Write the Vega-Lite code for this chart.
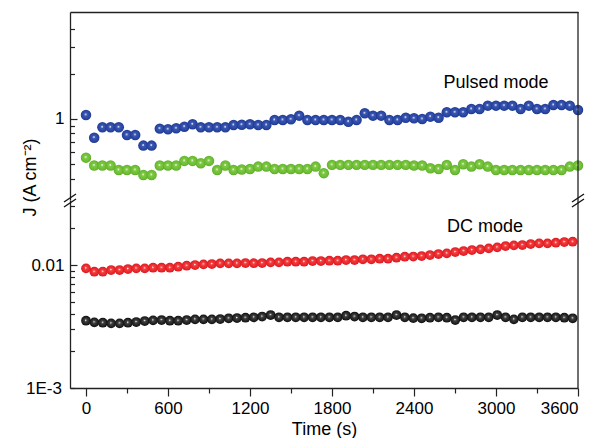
{
  "$schema": "https://vega.github.io/schema/vega-lite/v6.json",
  "background": "white",
  "padding": {"left": 21, "top": 11, "right": 3, "bottom": 0},
  "config": {"font": "Liberation Sans", "view": {"stroke": null}, "text": {"font": "Liberation Sans"}},
  "spacing": 0,
  "bounds": "flush",
  "datasets": {
    "blue": [{"t":0,"j":1.063},{"t":60,"j":0.75},{"t":120,"j":0.88},{"t":180,"j":0.88},{"t":240,"j":0.88},{"t":300,"j":0.782},{"t":360,"j":0.782},{"t":420,"j":0.664},{"t":480,"j":0.664},{"t":540,"j":0.862},{"t":600,"j":0.854},{"t":660,"j":0.867},{"t":720,"j":0.888},{"t":780,"j":0.922},{"t":840,"j":0.88},{"t":900,"j":0.88},{"t":960,"j":0.88},{"t":1020,"j":0.88},{"t":1080,"j":0.912},{"t":1140,"j":0.915},{"t":1200,"j":0.922},{"t":1260,"j":0.912},{"t":1320,"j":0.912},{"t":1380,"j":0.985},{"t":1440,"j":0.985},{"t":1500,"j":0.995},{"t":1560,"j":1.052},{"t":1620,"j":0.985},{"t":1680,"j":0.985},{"t":1740,"j":0.985},{"t":1800,"j":0.985},{"t":1860,"j":0.985},{"t":1920,"j":0.959},{"t":1980,"j":0.985},{"t":2040,"j":1.091},{"t":2100,"j":1.052},{"t":2160,"j":1.052},{"t":2220,"j":0.985},{"t":2280,"j":0.985},{"t":2340,"j":1.02},{"t":2400,"j":1.01},{"t":2460,"j":1.0},{"t":2520,"j":1.036},{"t":2580,"j":1.02},{"t":2640,"j":1.108},{"t":2700,"j":1.108},{"t":2760,"j":1.108},{"t":2820,"j":1.166},{"t":2880,"j":1.166},{"t":2940,"j":1.227},{"t":3000,"j":1.227},{"t":3060,"j":1.227},{"t":3120,"j":1.227},{"t":3180,"j":1.166},{"t":3240,"j":1.227},{"t":3300,"j":1.166},{"t":3360,"j":1.166},{"t":3420,"j":1.24},{"t":3480,"j":1.24},{"t":3540,"j":1.227},{"t":3600,"j":1.148}],
    "green": [{"t":0,"j":0.552},{"t":60,"j":0.489},{"t":120,"j":0.489},{"t":180,"j":0.489},{"t":240,"j":0.457},{"t":300,"j":0.457},{"t":360,"j":0.457},{"t":420,"j":0.423},{"t":480,"j":0.423},{"t":540,"j":0.489},{"t":600,"j":0.489},{"t":660,"j":0.489},{"t":720,"j":0.525},{"t":780,"j":0.525},{"t":840,"j":0.507},{"t":900,"j":0.525},{"t":960,"j":0.457},{"t":1020,"j":0.489},{"t":1080,"j":0.457},{"t":1140,"j":0.46},{"t":1200,"j":0.464},{"t":1260,"j":0.481},{"t":1320,"j":0.481},{"t":1380,"j":0.464},{"t":1440,"j":0.464},{"t":1500,"j":0.464},{"t":1560,"j":0.464},{"t":1620,"j":0.464},{"t":1680,"j":0.481},{"t":1740,"j":0.435},{"t":1800,"j":0.494},{"t":1860,"j":0.494},{"t":1920,"j":0.494},{"t":1980,"j":0.494},{"t":2040,"j":0.494},{"t":2100,"j":0.494},{"t":2160,"j":0.494},{"t":2220,"j":0.494},{"t":2280,"j":0.494},{"t":2340,"j":0.494},{"t":2400,"j":0.489},{"t":2460,"j":0.489},{"t":2520,"j":0.469},{"t":2580,"j":0.464},{"t":2640,"j":0.494},{"t":2700,"j":0.457},{"t":2760,"j":0.499},{"t":2820,"j":0.481},{"t":2880,"j":0.499},{"t":2940,"j":0.481},{"t":3000,"j":0.457},{"t":3060,"j":0.457},{"t":3120,"j":0.457},{"t":3180,"j":0.457},{"t":3240,"j":0.457},{"t":3300,"j":0.457},{"t":3360,"j":0.457},{"t":3420,"j":0.457},{"t":3480,"j":0.457},{"t":3540,"j":0.481},{"t":3600,"j":0.489}],
    "red": [{"t":0,"j":0.0094},{"t":61,"j":0.00882},{"t":123,"j":0.00882},{"t":184,"j":0.00911},{"t":246,"j":0.00911},{"t":307,"j":0.00928},{"t":368,"j":0.0094},{"t":430,"j":0.0094},{"t":491,"j":0.00951},{"t":553,"j":0.00951},{"t":614,"j":0.00951},{"t":675,"j":0.00969},{"t":737,"j":0.00987},{"t":798,"j":0.01},{"t":860,"j":0.01013},{"t":921,"j":0.01019},{"t":982,"j":0.01032},{"t":1044,"j":0.01032},{"t":1105,"j":0.01032},{"t":1167,"j":0.01038},{"t":1228,"j":0.01035},{"t":1289,"j":0.01038},{"t":1351,"j":0.01052},{"t":1412,"j":0.01052},{"t":1474,"j":0.01064},{"t":1535,"j":0.01064},{"t":1596,"j":0.01064},{"t":1658,"j":0.01078},{"t":1719,"j":0.01078},{"t":1781,"j":0.01084},{"t":1842,"j":0.01084},{"t":1903,"j":0.01098},{"t":1965,"j":0.01098},{"t":2026,"j":0.01113},{"t":2088,"j":0.01113},{"t":2149,"j":0.01125},{"t":2210,"j":0.01125},{"t":2272,"j":0.01147},{"t":2333,"j":0.01168},{"t":2395,"j":0.01172},{"t":2456,"j":0.01184},{"t":2517,"j":0.01206},{"t":2579,"j":0.01229},{"t":2640,"j":0.01245},{"t":2702,"j":0.01276},{"t":2763,"j":0.013},{"t":2824,"j":0.01324},{"t":2886,"j":0.01342},{"t":2947,"j":0.01367},{"t":3009,"j":0.01393},{"t":3070,"j":0.01427},{"t":3131,"j":0.01446},{"t":3193,"j":0.01454},{"t":3254,"j":0.01481},{"t":3316,"j":0.01501},{"t":3377,"j":0.01501},{"t":3438,"j":0.01518},{"t":3500,"j":0.01538},{"t":3561,"j":0.01547}],
    "black": [{"t":0,"j":0.003525},{"t":61,"j":0.00342},{"t":123,"j":0.003396},{"t":184,"j":0.003357},{"t":246,"j":0.003357},{"t":307,"j":0.003396},{"t":368,"j":0.003439},{"t":430,"j":0.003505},{"t":491,"j":0.003551},{"t":553,"j":0.003571},{"t":614,"j":0.003525},{"t":675,"j":0.003525},{"t":737,"j":0.003571},{"t":798,"j":0.003618},{"t":860,"j":0.003618},{"t":921,"j":0.003618},{"t":982,"j":0.003639},{"t":1044,"j":0.003687},{"t":1105,"j":0.003708},{"t":1167,"j":0.003729},{"t":1228,"j":0.003757},{"t":1289,"j":0.00381},{"t":1351,"j":0.003923},{"t":1412,"j":0.003757},{"t":1474,"j":0.003757},{"t":1535,"j":0.003757},{"t":1596,"j":0.003757},{"t":1658,"j":0.003757},{"t":1719,"j":0.003757},{"t":1781,"j":0.003757},{"t":1842,"j":0.003757},{"t":1903,"j":0.003872},{"t":1965,"j":0.00381},{"t":2026,"j":0.003757},{"t":2088,"j":0.003757},{"t":2149,"j":0.003757},{"t":2210,"j":0.003757},{"t":2272,"j":0.003923},{"t":2333,"j":0.003757},{"t":2395,"j":0.0037},{"t":2456,"j":0.003687},{"t":2517,"j":0.003729},{"t":2579,"j":0.003757},{"t":2640,"j":0.003729},{"t":2702,"j":0.003571},{"t":2763,"j":0.003757},{"t":2824,"j":0.003757},{"t":2886,"j":0.003757},{"t":2947,"j":0.003757},{"t":3009,"j":0.003923},{"t":3070,"j":0.003757},{"t":3131,"j":0.003618},{"t":3193,"j":0.003757},{"t":3254,"j":0.003757},{"t":3316,"j":0.003757},{"t":3377,"j":0.003757},{"t":3438,"j":0.003757},{"t":3500,"j":0.003729},{"t":3561,"j":0.003687}]
  },
  "vconcat": [
    {
      "width": 508,
      "height": 188,
      "layer": [
        {
          "data": {"name": "blue"},
          "mark": {"type": "circle", "size": 110, "opacity": 1, "strokeWidth": 0,
            "fill": {"gradient": "radial", "x1": 0.47, "y1": 0.44, "r1": 0, "x2": 0.5, "y2": 0.5, "r2": 0.52,
              "stops": [{"offset": 0, "color": "#ffffff"}, {"offset": 0.07, "color": "#f0f2fa"}, {"offset": 0.24, "color": "#3c58b4"}, {"offset": 0.85, "color": "#24419e"}, {"offset": 1, "color": "#1a3282"}]}},
          "encoding": {
            "x": {"field": "t", "type": "quantitative", "scale": {"domain": [-117, 3600], "nice": false, "zero": false},
              "axis": {"orient": "top", "labels": false, "ticks": false, "title": null, "grid": false, "domainColor": "#222", "domainWidth": 1.3}},
            "y": {"field": "j", "type": "quantitative", "scale": {"type": "log", "domain": [0.288, 5.17], "nice": false},
              "axis": {"orient": "left", "values": [0.4, 0.5, 0.6, 0.7, 0.8, 0.9, 1, 2, 3, 4], "labelExpr": "datum.value == 1 ? '1' : ''",
                "grid": false, "tickSize": {"condition": {"test": "datum.value == 1", "value": -7}, "value": -4.5}, "tickWidth": 1.2, "tickColor": "#222", "labelPadding": 13, "domainColor": "#222", "domainWidth": 1.3,
                "labelFontSize": 17, "labelColor": "#000", "labelFont": "Liberation Sans",
                "title": "J (A cm⁻²)", "titleFont": "Liberation Sans", "titleFontSize": 18, "titleFontWeight": "normal", "titleColor": "#000",
                "titleX": -40, "titleY": 165, "titleAngle": -90, "titleAlign": "center", "titleBaseline": "middle"}}
          }
        },
        {
          "data": {"name": "green"},
          "mark": {"type": "circle", "size": 110, "opacity": 1, "strokeWidth": 0,
            "fill": {"gradient": "radial", "x1": 0.47, "y1": 0.44, "r1": 0, "x2": 0.5, "y2": 0.5, "r2": 0.52,
              "stops": [{"offset": 0, "color": "#ffffff"}, {"offset": 0.07, "color": "#f3faee"}, {"offset": 0.24, "color": "#80ca44"}, {"offset": 0.85, "color": "#68ba30"}, {"offset": 1, "color": "#529c22"}]}},
          "encoding": {
            "x": {"field": "t", "type": "quantitative"},
            "y": {"field": "j", "type": "quantitative"}
          }
        },
        {
          "data": {"values": [{"t": 3000, "j": 1.75, "label": "Pulsed mode"}]},
          "mark": {"type": "text", "fontSize": 18, "align": "center", "baseline": "middle", "color": "#000", "font": "Liberation Sans"},
          "encoding": {
            "x": {"field": "t", "type": "quantitative"},
            "y": {"field": "j", "type": "quantitative"},
            "text": {"field": "label"}
          }
        },
        {
          "data": {"values": [{"t": 3600}]},
          "mark": {"type": "rule", "color": "#222", "strokeWidth": 1.3},
          "encoding": {"x": {"field": "t", "type": "quantitative"}}
        }
      ]
    },
    {
      "width": 508,
      "height": 188,
      "layer": [
        {
          "data": {"name": "red"},
          "mark": {"type": "circle", "size": 95, "opacity": 1, "strokeWidth": 0,
            "fill": {"gradient": "radial", "x1": 0.47, "y1": 0.44, "r1": 0, "x2": 0.5, "y2": 0.5, "r2": 0.52,
              "stops": [{"offset": 0, "color": "#ffffff"}, {"offset": 0.07, "color": "#fdeeee"}, {"offset": 0.24, "color": "#f04040"}, {"offset": 0.85, "color": "#e81e24"}, {"offset": 1, "color": "#c4161c"}]}},
          "encoding": {
            "x": {"field": "t", "type": "quantitative", "scale": {"domain": [-117, 3600], "nice": false, "zero": false},
              "axis": {"orient": "bottom", "values": [0, 300, 600, 900, 1200, 1500, 1800, 2100, 2400, 2700, 3000, 3300, 3600], "format": "d",
                "labelExpr": "datum.value % 600 == 0 ? datum.label : ''", "grid": false,
                "tickSize": {"condition": {"test": "datum.value % 600 == 0", "value": 8}, "value": 5},
                "tickWidth": 1.2, "tickColor": "#222", "labelPadding": 4, "domainColor": "#222", "domainWidth": 1.3,
                "labelFontSize": 17, "labelColor": "#000", "labelFont": "Liberation Sans",
                "title": "Time (s)", "titleFont": "Liberation Sans", "titleFontSize": 18, "titleFontWeight": "normal", "titleColor": "#000", "titlePadding": 4}},
            "y": {"field": "j", "type": "quantitative", "scale": {"type": "log", "domain": [0.001, 0.0338], "nice": false},
              "axis": {"orient": "left", "values": [0.001, 0.002, 0.003, 0.004, 0.005, 0.006, 0.007, 0.008, 0.009, 0.01, 0.02, 0.03],
                "labelExpr": "abs(datum.value - 0.01) < 1e-9 ? '0.01' : (datum.value < 0.0015 ? '1E-3' : '')",
                "grid": false, "tickSize": {"condition": {"test": "abs(datum.value - 0.01) < 1e-9", "value": -7}, "value": -4.5}, "tickWidth": 1.2, "tickColor": "#222", "labelPadding": 13, "domainColor": "#222", "domainWidth": 1.3,
                "labelFontSize": 17, "labelColor": "#000", "labelFont": "Liberation Sans", "title": null}}
          }
        },
        {
          "data": {"name": "black"},
          "mark": {"type": "circle", "size": 95, "opacity": 1, "strokeWidth": 0,
            "fill": {"gradient": "radial", "x1": 0.47, "y1": 0.44, "r1": 0, "x2": 0.5, "y2": 0.5, "r2": 0.52,
              "stops": [{"offset": 0, "color": "#ffffff"}, {"offset": 0.07, "color": "#e8e8e8"}, {"offset": 0.24, "color": "#404040"}, {"offset": 0.85, "color": "#1a1a1a"}, {"offset": 1, "color": "#000000"}]}},
          "encoding": {
            "x": {"field": "t", "type": "quantitative"},
            "y": {"field": "j", "type": "quantitative"}
          }
        },
        {
          "data": {"values": [{"t": 2919, "j": 0.0205, "label": "DC mode"}]},
          "mark": {"type": "text", "fontSize": 18, "align": "center", "baseline": "middle", "color": "#000", "font": "Liberation Sans"},
          "encoding": {
            "x": {"field": "t", "type": "quantitative"},
            "y": {"field": "j", "type": "quantitative"},
            "text": {"field": "label"}
          }
        },
        {
          "data": {"values": [{"t": 3600}]},
          "mark": {"type": "rule", "color": "#222", "strokeWidth": 1.3},
          "encoding": {"x": {"field": "t", "type": "quantitative"}}
        },
        {
          "data": {"values": [{"t": -117, "j": 0.0338}, {"t": 3600, "j": 0.0338}]},
          "mark": {"type": "rule", "color": "#111", "strokeWidth": 1.3, "xOffset": -6, "x2Offset": 6, "yOffset": 2, "y2Offset": -6},
          "encoding": {
            "x": {"field": "t", "type": "quantitative"},
            "x2": {"field": "t"},
            "y": {"field": "j", "type": "quantitative"},
            "y2": {"field": "j"}
          }
        },
        {
          "data": {"values": [{"t": -117, "j": 0.0338}, {"t": 3600, "j": 0.0338}]},
          "mark": {"type": "rule", "color": "#111", "strokeWidth": 1.3, "xOffset": -6, "x2Offset": 6, "yOffset": 7, "y2Offset": -1},
          "encoding": {
            "x": {"field": "t", "type": "quantitative"},
            "x2": {"field": "t"},
            "y": {"field": "j", "type": "quantitative"},
            "y2": {"field": "j"}
          }
        }
      ]
    }
  ]
}
